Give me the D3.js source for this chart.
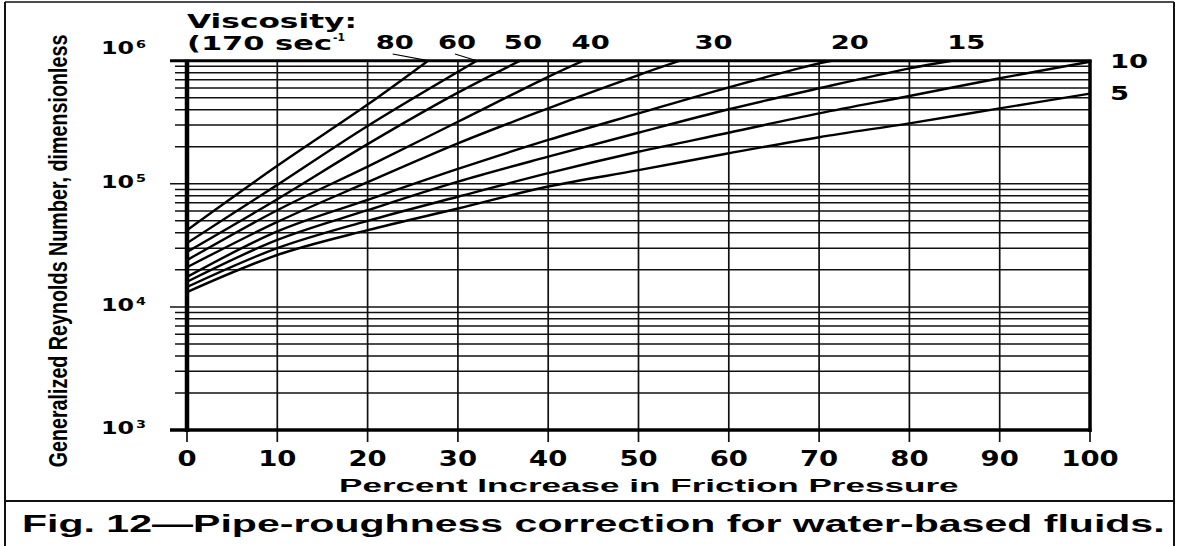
<!DOCTYPE html>
<html><head><meta charset="utf-8">
<script src="https://cdn.jsdelivr.net/npm/d3@7"></script>
<style>body{margin:0;background:#fff}svg{display:block}</style>
</head><body><svg id="c" width="1180" height="546"></svg>
<script>
// ---- data (x = percent increase, y = generalized Reynolds number)
const viscosities = [80, 60, 50, 40, 30, 20, 15, 10, 5];
const curve80 = [[0,42000],[10,140000],[20,440000],[26.7,1000000]];
const curve60 = [[0,33000],[10,98000],[20,295000],[32.1,1000000]];
const curve50 = [[0,28000],[10,75000],[20,210000],[30,550000],[36.9,1000000]];
const curve40 = [[0,24000],[10,61000],[20,138000],[30,319000],[40,740000],[43.9,1000000]];
const curve30 = [[0,21000],[10,49000],[20,103000],[30,213000],[40,410000],[50,765000],[54.6,1000000]];
const curve20 = [[0,17500],[10,41000],[20,74000],[30,132000],[40,227000],[50,373000],[60,608000],[70,950000],[71.4,1000000]];
const curve15 = [[0,16000],[10,35000],[20,61000],[30,104000],[40,166000],[50,260000],[60,403000],[70,597000],[80,867000],[84.7,1000000]];
const curve10 = [[0,14500],[10,30000],[20,50000],[30,78500],[40,122000],[50,182000],[60,260000],[70,373000],[80,517000],[90,720000],[100,980000]];
const curve5  = [[0,13200],[10,26400],[20,42000],[30,63000],[40,95000],[50,129000],[60,177000],[70,239000],[80,310000],[90,410000],[100,540000]];
const curves = [curve80, curve60, curve50, curve40, curve30, curve20, curve15, curve10, curve5];
const topLabelAt = [23.0, 29.9, 37.2, 44.7, 58.3, 73.4, 86.3];   // percent position of top labels
const leaderFor = [80, 60];
const xTicks = [0,10,20,30,40,50,60,70,80,90,100];
const yDecadeExp = [3, 4, 5, 6];
const yMultipliers = [1,2,3,4,5,6,7,8,9];

const svg = d3.select("#c");
const X0 = 187, X1 = 1090, Y0 = 430, Y1 = 60.7;
const x = d3.scaleLinear().domain([0,100]).range([X0, X1]);
const y = d3.scaleLog().domain([1e3,1e6]).range([Y0, Y1]);

svg.append("rect").attr("width",1180).attr("height",546).attr("fill","#fff");

// outer figure frame
const frame = svg.append("g").attr("stroke","#111").attr("stroke-width",2);
frame.append("line").attr("x1",5).attr("x2",5).attr("y1",2).attr("y2",546);
frame.append("line").attr("x1",1174).attr("x2",1174).attr("y1",2).attr("y2",546);
frame.append("line").attr("x1",5).attr("x2",1174).attr("y1",2).attr("y2",2).attr("stroke-width",1.5);
frame.append("line").attr("x1",5).attr("x2",1174).attr("y1",501).attr("y2",501);

// horizontal grid + left ticks
const hVals = [];
yDecadeExp.slice(0,3).forEach(e => yMultipliers.forEach(m => hVals.push(m*Math.pow(10,e))));
hVals.push(1e6);
const grid = svg.append("g").attr("stroke","#111");
hVals.forEach(v => {
  const major = Math.abs(Math.log10(v) - Math.round(Math.log10(v))) < 1e-9;
  grid.append("line").attr("x1", major ? 170 : 175).attr("x2", X1).attr("y1", y(v)).attr("y2", y(v))
      .attr("stroke-width", 1.5);
});
// vertical grid + bottom ticks
xTicks.forEach(t => {
  grid.append("line").attr("x1", x(t)).attr("x2", x(t)).attr("y1", Y1).attr("y2", Y0 + 12)
      .attr("stroke-width", 1.7);
});

// curves
svg.append("clipPath").attr("id","pc").append("rect")
   .attr("x",X0).attr("y",Y1).attr("width",X1-X0).attr("height",Y0-Y1);
const line = d3.line().x(d => x(d[0])).y(d => y(d[1])).curve(d3.curveCatmullRom.alpha(0.5));
svg.append("g").attr("clip-path","url(#pc)").selectAll("path").data(curves).join("path")
   .attr("d", line).attr("fill","none").attr("stroke","#000").attr("stroke-width",2.4);

// plot border
const b = svg.append("g").attr("stroke","#000");
b.append("line").attr("x1",X0).attr("x2",X0).attr("y1",Y1-1).attr("y2",Y0+2).attr("stroke-width",4.5);
b.append("line").attr("x1",X0-17).attr("x2",X1+1.5).attr("y1",Y0).attr("y2",Y0).attr("stroke-width",3.5);
b.append("line").attr("x1",X1).attr("x2",X1).attr("y1",Y1-1).attr("y2",Y0+2).attr("stroke-width",3.5);
b.append("line").attr("x1",X0-17).attr("x2",X1+1.5).attr("y1",Y1).attr("y2",Y1).attr("stroke-width",3);

// text helpers
const BOLDW = "'DejaVu Sans', sans-serif";
const HELV = "'Liberation Sans', Arial, sans-serif";
function stretched(g, tx, ty, sx, txt, size, anchor, family) {
  return g.append("text").attr("transform", `translate(${tx},${ty}) scale(${sx},1)`)
    .attr("text-anchor", anchor).attr("font-family", family || BOLDW)
    .attr("font-weight", "bold").attr("font-size", size).attr("fill","#000").text(txt);
}
// fit a text to a given length with a scale transform (rot = optional rotation)
function fitted(g, tx, ty, len, txt, size, anchor, family, rot) {
  const t = g.append("text").attr("text-anchor", anchor).attr("font-family", family)
    .attr("font-weight","bold").attr("font-size", size).attr("fill","#000").text(txt);
  const w = t.node().getComputedTextLength();
  t.attr("transform", `translate(${tx},${ty})${rot ? ` rotate(${rot})` : ""} scale(${len / w},1)`);
  return t;
}
const T = svg.append("g");

// x tick labels
xTicks.forEach(t => stretched(T, x(t), 466, 1.25, String(t), 22, "middle"));
// y tick labels 10^n
yDecadeExp.forEach(e => {
  const v = Math.pow(10, e);
  const by = e === 6 ? y(v) - 6.5 : y(v) + 4;
  stretched(T, 134, by, 1.4, "10", 17, "end");
  stretched(T, 136, by - 6, 1.3, String(e), 11, "start");
});

// axis titles
fitted(T, 67, 251, 433, "Generalized Reynolds Number, dimensionless", 26, "middle", HELV, -90);
fitted(T, 339, 492, 620, "Percent Increase in Friction Pressure", 18, "start", HELV);
fitted(T, 22, 532, 1143, "Fig. 12\u2014Pipe-roughness correction for water-based fluids.", 23, "start", HELV);

// viscosity legend header
fitted(T, 187, 28, 170, "Viscosity:", 20, "start", BOLDW);
fitted(T, 187, 50, 145, "(170 sec", 20, "start", BOLDW);
fitted(T, 333, 41, 12, "-1", 11, "start", BOLDW);

// curve labels along the top
topLabelAt.forEach((p, i) => {
  stretched(T, x(p), 49, 1.37, String(viscosities[i]), 20, "middle");
});
// leader lines
leaderFor.forEach(v => {
  const i = viscosities.indexOf(v);
  const c = curves[i], end = c[c.length - 1];
  T.append("line").attr("x1", x(topLabelAt[i]) - 2).attr("y1", 54)
   .attr("x2", x(end[0])).attr("y2", y(end[1])).attr("stroke","#000").attr("stroke-width",1.2);
});
// right-side labels
[7, 8].forEach(i => {
  const c = curves[i], end = c[c.length - 1];
  stretched(T, 1110, y(end[1]) + 6, 1.37, String(viscosities[i]), 20, "start");
});
</script></body></html>
